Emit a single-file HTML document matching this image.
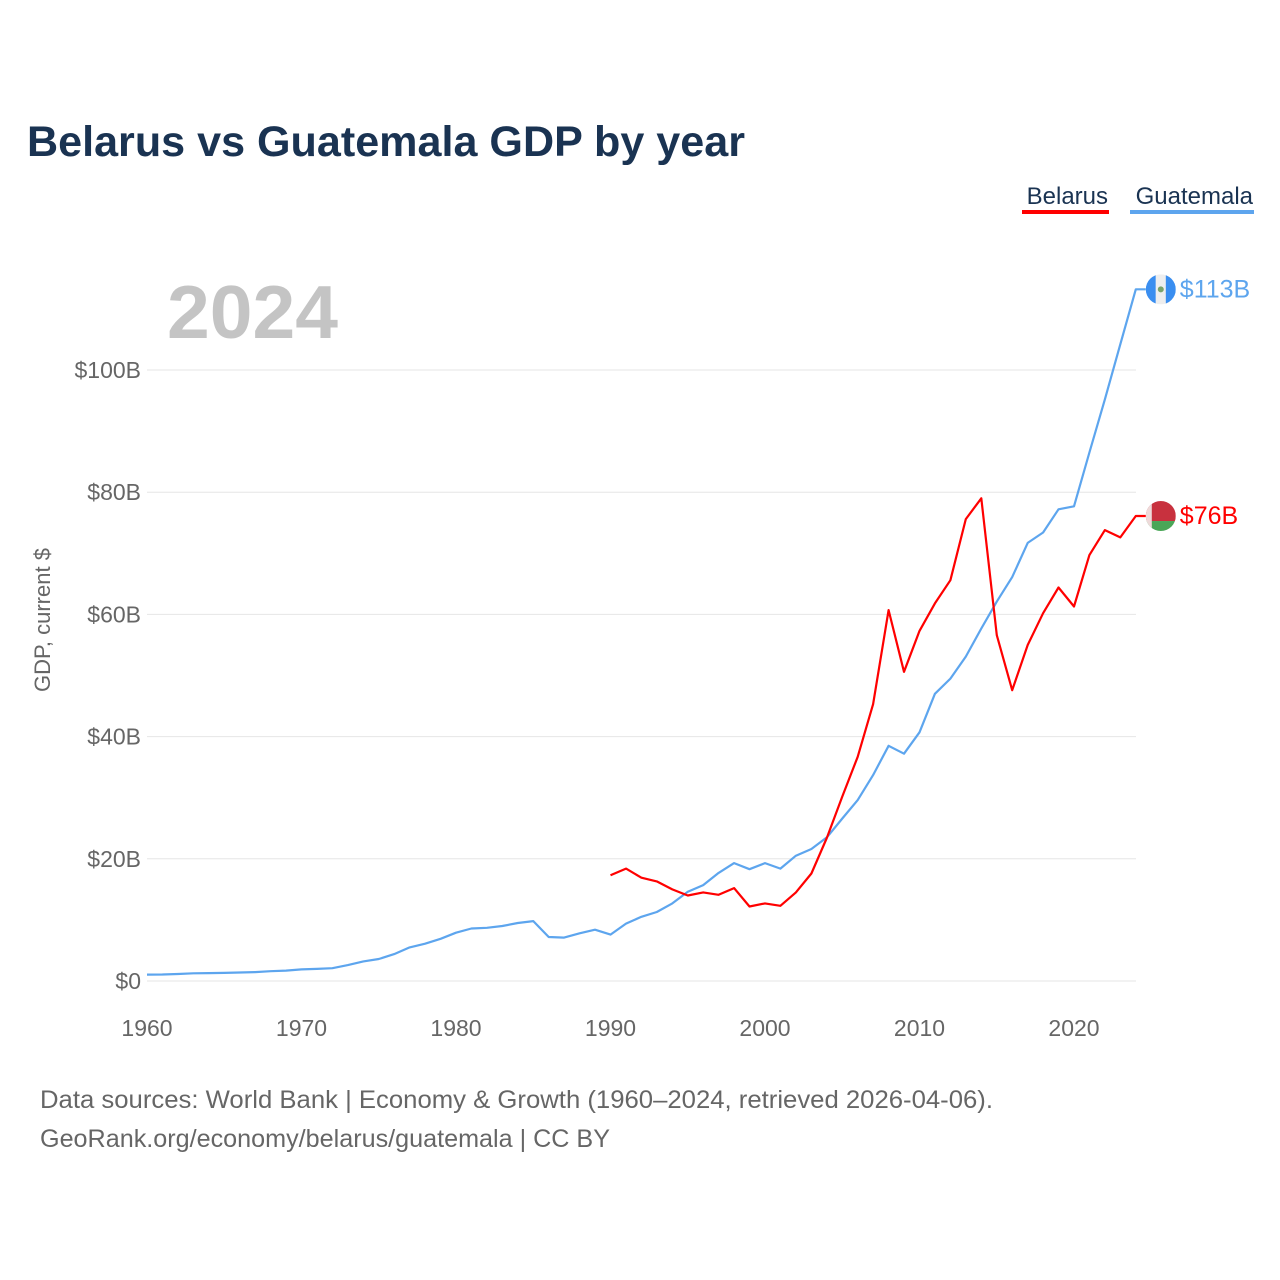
<!DOCTYPE html>
<html><head><meta charset="utf-8"><style>
body{margin:0;background:#fff;font-family:"Liberation Sans",sans-serif}
svg{display:block}
</style></head><body>
<svg id="chart" width="1280" height="1280" viewBox="0 0 1280 1280">
<text x="27" y="156" font-size="43" font-weight="bold" fill="#1a3352" textLength="718" lengthAdjust="spacingAndGlyphs">Belarus vs Guatemala GDP by year</text>
<g>
<text x="1108" y="204" font-size="24" fill="#1a3352" text-anchor="end">Belarus</text>
<rect x="1022" y="210" width="87" height="4" fill="#ff0000"/>
<text x="1253" y="204" font-size="24" fill="#1a3352" text-anchor="end">Guatemala</text>
<rect x="1130" y="210" width="124" height="4" fill="#5da5ee"/>
</g>
<text x="167" y="338" font-size="75" font-weight="bold" fill="#c4c4c4" textLength="171" lengthAdjust="spacingAndGlyphs">2024</text>
<g id="grid"></g><g id="yt"></g><g id="xt"></g><g id="lines"></g><g id="ends"></g>
<text transform="translate(50,620) rotate(-90)" font-size="22" fill="#666" text-anchor="middle">GDP, current $</text>
<text x="40" y="1108" font-size="25" fill="#666" textLength="953" lengthAdjust="spacingAndGlyphs">Data sources: World Bank | Economy &amp; Growth (1960–2024, retrieved 2026-04-06).</text>
<text x="40" y="1147" font-size="25" fill="#666" textLength="570" lengthAdjust="spacingAndGlyphs">GeoRank.org/economy/belarus/guatemala | CC BY</text>
</svg>
<script>
const years=[];for(let y=1960;y<=2024;y++)years.push(y);
const guatemala=[1.04,1.07,1.15,1.26,1.30,1.33,1.39,1.45,1.60,1.70,1.90,1.98,2.1,2.6,3.2,3.6,4.4,5.5,6.1,6.9,7.9,8.6,8.7,9.0,9.5,9.8,7.2,7.1,7.8,8.4,7.6,9.4,10.5,11.3,12.7,14.6,15.7,17.7,19.3,18.3,19.3,18.4,20.5,21.6,23.5,26.6,29.6,33.7,38.5,37.2,40.7,47.0,49.5,53.1,57.7,62.1,66.1,71.7,73.4,77.2,77.7,86.5,95.2,104.2,113.2];
const belarusYears=[];for(let y=1990;y<=2024;y++)belarusYears.push(y);
const belarus=[17.3,18.4,16.9,16.3,15.0,14.0,14.5,14.1,15.2,12.2,12.7,12.3,14.5,17.6,23.4,30.2,36.7,45.3,60.7,50.6,57.3,61.8,65.6,75.6,79.0,56.6,47.6,55.0,60.2,64.4,61.3,69.7,73.8,72.6,76.1];
const yTicks=[0,20,40,60,80,100];
const yTickLabels=["$0","$20B","$40B","$60B","$80B","$100B"];
const xTicks=[1960,1970,1980,1990,2000,2010,2020];
const endLabels=["$113B","$76B"];
const X=y=>147+(y-1960)*15.45;
const Y=v=>981-v*6.11;
const NS="http://www.w3.org/2000/svg";
function mk(t,a,p){const e=document.createElementNS(NS,t);for(const k in a)e.setAttribute(k,a[k]);document.getElementById(p).appendChild(e);return e;}
yTicks.forEach((v,i)=>{
 const l=mk('line',{x1:147,x2:1136,y1:Y(v),y2:Y(v),stroke:'#e6e6e6','stroke-width':1},'grid');
 
 
 const t=mk('text',{x:141,y:Y(v)+8,'font-size':23,fill:'#666','text-anchor':'end'},'yt');
 t.textContent=yTickLabels[i];
 
 
});
xTicks.forEach(v=>{
 const t=mk('text',{x:X(v),y:1036,'font-size':23,fill:'#666','text-anchor':'middle'},'xt');
 t.textContent=v;
 
 
});
function path(ys,vs,color,name){
 let d=ys.map((y,i)=>(i?'L':'M')+X(y).toFixed(1)+','+Y(vs[i]).toFixed(1)).join('');
 d+='L'+(X(ys[ys.length-1])+10).toFixed(1)+','+Y(vs[vs.length-1]).toFixed(1);
 const p=mk('path',{d:d,fill:'none',stroke:color,'stroke-width':2.2,'stroke-linejoin':'round'},'lines');
 
 
}
path(years,guatemala,'#5da5ee','guatemala-line');
path(belarusYears,belarus,'#ff0000','belarus-line');
function end(v,label,color,name,flag){
 const cx=X(2024)+25,cy=Y(v);
 const g=mk('g',{},'ends');
 
 
 const dd=document.createElementNS(NS,'defs');const cp=document.createElementNS(NS,'clipPath');cp.setAttribute('id','c'+name);
 const cc=document.createElementNS(NS,'circle');cc.setAttribute('cx',cx);cc.setAttribute('cy',cy);cc.setAttribute('r',15);cp.appendChild(cc);dd.appendChild(cp);g.appendChild(dd);
 flag(g,cx,cy,'url(#c'+name+')');
 const t=document.createElementNS(NS,'text');
 t.setAttribute('x',cx+19);t.setAttribute('y',cy+8);t.setAttribute('font-size',25);t.setAttribute('fill',color);
 t.textContent=label;g.appendChild(t);
}
function r(g,a){const e=document.createElementNS(NS,'rect');for(const k in a)e.setAttribute(k,a[k]);g.appendChild(e);}
end(guatemala[guatemala.length-1],endLabels[0],'#5da5ee','guatemala-end-label',(g,cx,cy,c)=>{
 r(g,{x:cx-15,y:cy-15,width:10,height:30,fill:'#3a8ef0','clip-path':c});
 r(g,{x:cx-5,y:cy-15,width:10,height:30,fill:'#eee','clip-path':c});
 r(g,{x:cx+5,y:cy-15,width:10,height:30,fill:'#3a8ef0','clip-path':c});
 r(g,{x:cx-3,y:cy-3,width:6,height:6,fill:'#7aa36a',rx:3});
});
end(belarus[belarus.length-1],endLabels[1],'#ff0000','belarus-end-label',(g,cx,cy,c)=>{
 r(g,{x:cx-15,y:cy-15,width:30,height:20,fill:'#c8313e','clip-path':c});
 r(g,{x:cx-15,y:cy+5,width:30,height:10,fill:'#4aa657','clip-path':c});
 r(g,{x:cx-15,y:cy-15,width:6,height:30,fill:'#eedada','clip-path':c});
});
</script>
</body></html>
